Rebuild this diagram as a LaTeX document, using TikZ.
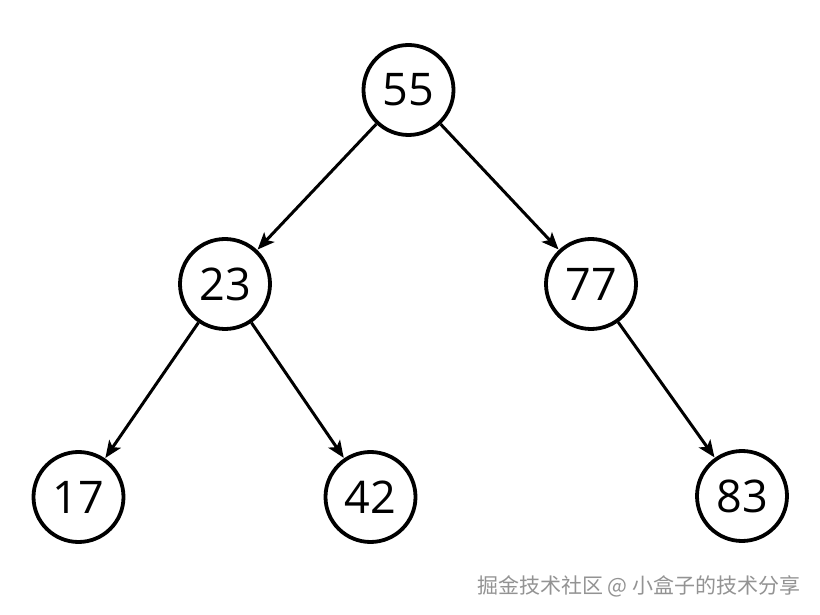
\documentclass[tikz,border=0pt]{standalone}
\usepackage{fontspec}
\setmainfont{Open Sans}
\newfontfamily\cjk{Noto Sans CJK SC}
\usetikzlibrary{arrows.meta}
\begin{document}
\begin{tikzpicture}[x=1pt,y=1pt,
  tnode/.style={circle,draw,line width=3.8pt,minimum size=90pt,inner sep=0pt,font=\fontsize{45}{45}\selectfont},
  edge/.style={line width=3pt,-{Stealth[length=17pt,width=14pt,inset=4pt]},shorten >=0.5pt}]
\useasboundingbox (0,0) rectangle (820,614);
\fill[white] (0,0) rectangle (820,614);
\node[tnode] (n55) at (408.5,524) {55};
\node[tnode] (n23) at (225,330) {23};
\node[tnode] (n77) at (591,330) {77};
\node[tnode] (n17) at (78.5,117) {17};
\node[tnode] (n42) at (370.5,117) {42};
\node[tnode] (n83) at (742,118) {83};
\draw[edge] (n55) -- (n23);
\draw[edge] (n55) -- (n77);
\draw[edge] (n23) -- (n17);
\draw[edge] (n23) -- (n42);
\draw[edge] (n77) -- (n83);
\node[font=\cjk\fontsize{21}{21}\selectfont,text=gray!85,anchor=east] (wm) at (804,28) {掘金技术社区 @ 小盒子的技术分享};
\end{tikzpicture}
\end{document}
